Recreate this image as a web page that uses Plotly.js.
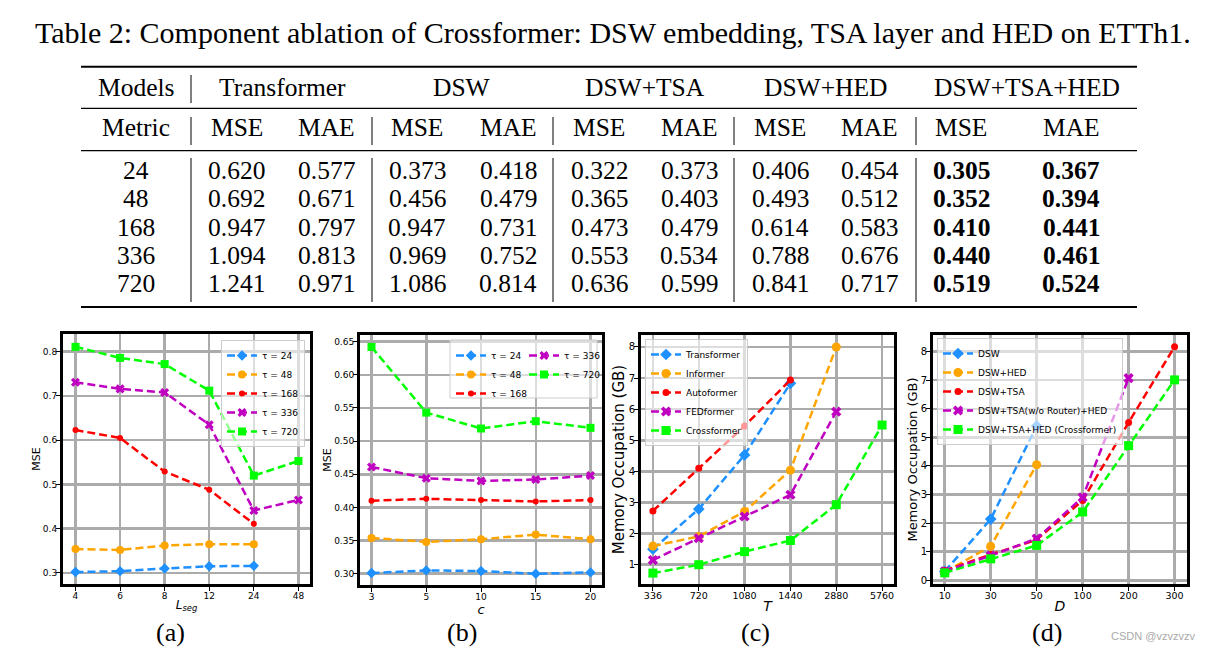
<!DOCTYPE html>
<html><head><meta charset="utf-8">
<script src="https://cdn.plot.ly/plotly-3.0.1.min.js"></script>
<style>html,body{margin:0;padding:0;background:#fff;} #chart{width:1213px;height:652px;}</style>
</head><body><div id="chart"></div>
<script>
// ================= DATA =================
// --- Table 2 ---
const tableTitle = 'Table 2: Component ablation of Crossformer: DSW embedding, TSA layer and HED on ETTh1.';
const tableModels = ['Transformer', 'DSW', 'DSW+TSA', 'DSW+HED', 'DSW+TSA+HED'];
const tableMetrics = ['MSE', 'MAE'];
const tableHorizons = ['24', '48', '168', '336', '720'];
const transformerMSE = [0.620, 0.692, 0.947, 1.094, 1.241];
const transformerMAE = [0.577, 0.671, 0.797, 0.813, 0.971];
const dswMSE = [0.373, 0.456, 0.947, 0.969, 1.086];
const dswMAE = [0.418, 0.479, 0.731, 0.752, 0.814];
const dswTsaMSE = [0.322, 0.365, 0.473, 0.553, 0.636];
const dswTsaMAE = [0.373, 0.403, 0.479, 0.534, 0.599];
const dswHedMSE = [0.406, 0.493, 0.614, 0.788, 0.841];
const dswHedMAE = [0.454, 0.512, 0.583, 0.676, 0.717];
const dswTsaHedMSE = [0.305, 0.352, 0.410, 0.440, 0.519];
const dswTsaHedMAE = [0.367, 0.394, 0.441, 0.461, 0.524];
const boldModel = 'DSW+TSA+HED';

// --- (a) MSE vs L_seg ---
const tauNames = ['τ = 24', 'τ = 48', 'τ = 168', 'τ = 336', 'τ = 720'];
const lsegTicks = ['4', '6', '8', '12', '24', '48'];
const aTau24  = [0.302, 0.304, 0.310, 0.315, 0.316];
const aTau48  = [0.354, 0.352, 0.362, 0.365, 0.365];
const aTau168 = [0.623, 0.605, 0.529, 0.488, 0.411];
const aTau336 = [0.731, 0.716, 0.708, 0.635, 0.441, 0.465];
const aTau720 = [0.811, 0.786, 0.772, 0.712, 0.520, 0.553];

// --- (b) MSE vs c ---
const cTicks = ['3', '5', '10', '15', '20'];
const bTau24  = [0.301, 0.305, 0.304, 0.300, 0.302];
const bTau48  = [0.354, 0.348, 0.352, 0.359, 0.352];
const bTau168 = [0.410, 0.413, 0.411, 0.409, 0.411];
const bTau336 = [0.461, 0.444, 0.440, 0.442, 0.448];
const bTau720 = [0.642, 0.543, 0.519, 0.530, 0.520];

// --- (c) Memory vs T ---
const tTicks = ['336', '720', '1080', '1440', '2880', '5760'];
const cNames = ['Transformer', 'Informer', 'Autoformer', 'FEDformer', 'Crossformer'];
const cTransformer = [1.50, 2.79, 4.53, 6.83];
const cInformer    = [1.60, 1.91, 2.71, 4.04, 8.00];
const cAutoformer  = [2.73, 4.10, 5.46, 6.94];
const cFEDformer   = [1.15, 1.85, 2.55, 3.25, 5.92];
const cCrossformer = [0.73, 1.00, 1.42, 1.78, 2.93, 5.49];

// --- (d) Memory vs D ---
const dTicks = ['10', '30', '50', '100', '200', '300'];
const dNames = ['DSW', 'DSW+HED', 'DSW+TSA', 'DSW+TSA(w/o Router)+HED', 'DSW+TSA+HED (Crossformer)'];
const dDSW         = [0.31, 2.14, 5.40];
const dDSWHED      = [0.29, 1.19, 4.04];
const dDSWTSA      = [0.34, 0.90, 1.42, 2.79, 5.52, 8.17];
const dDSWTSANoRouterHED = [0.31, 0.86, 1.46, 2.90, 7.07];
const dCrossformer = [0.26, 0.75, 1.22, 2.39, 4.71, 7.01];

const panelLabels = ['(a)', '(b)', '(c)', '(d)'];
const watermark = 'CSDN @vzvzvzv';

// ================= LAYOUT HELPERS =================
const W = 1213, H = 652;
const px = x => x / W;
const py = y => 1 - y / H;
const SERIF = 'Liberation Serif, Times New Roman, serif';
const SANS = 'DejaVu Sans, sans-serif';

const styles = [
  {color: '#1E90FF', symbol: 'diamond', size: 8},
  {color: '#FFA500', symbol: 'circle', size: 8},
  {color: '#FF0000', symbol: 'circle', size: 6},
  {color: '#C000C0', symbol: 'x', size: 8},
  {color: '#00FF00', symbol: 'square', size: 8}
];

function series(cats, vals, name, st, xa, ya, legend, rank, bump) {
  return {
    type: 'scatter', mode: 'lines+markers',
    x: cats.slice(0, vals.length), y: vals, name: name,
    xaxis: xa, yaxis: ya, legend: legend, legendrank: rank,
    line: {color: st.color, width: 2.5, dash: '8px,4px'},
    marker: {color: st.color, symbol: st.symbol, size: st.size + (bump || 0), line: {width: 0}}
  };
}

const traces = [];
[aTau24, aTau48, aTau168, aTau336, aTau720].forEach((v, i) =>
  traces.push(series(lsegTicks, v, tauNames[i], styles[i], 'x', 'y', 'legend', i + 1, 0)));
// (b) legend is split into two columns: 24/48/168 and 336/720
[bTau24, bTau48, bTau168, bTau336, bTau720].forEach((v, i) =>
  traces.push(series(cTicks, v, tauNames[i], styles[i], 'x2', 'y2', i < 3 ? 'legend2' : 'legend3', i + 1, 0)));
[cTransformer, cInformer, cAutoformer, cFEDformer, cCrossformer].forEach((v, i) =>
  traces.push(series(tTicks, v, cNames[i], styles[i], 'x3', 'y3', 'legend4', i + 1, 1)));
[dDSW, dDSWHED, dDSWTSA, dDSWTSANoRouterHED, dCrossformer].forEach((v, i) =>
  traces.push(series(dTicks, v, dNames[i], styles[i], 'x4', 'y4', 'legend5', i + 1, 1)));

const boxes = {a: [63, 310, 334, 584], b: [360, 602, 335, 585], c: [641, 894, 335, 584], d: [933, 1187, 335, 584]};

const axBase = {
  showline: true, linecolor: '#000', linewidth: 3, mirror: true,
  showgrid: true, gridcolor: '#ababab', gridwidth: 2.5, zeroline: false,
  ticks: 'outside', ticklen: 4, tickwidth: 1, tickcolor: '#000',
  tickfont: {family: SANS, size: 9, color: '#000'}, fixedrange: true
};
function xAx(box, range, cats, title, tsize, anchor, fontsize) {
  return Object.assign({}, axBase, {
    domain: [px(box[0]), px(box[1])], anchor: anchor, type: 'category',
    categoryorder: 'array', categoryarray: cats, range: range, ticklabelstandoff: -3,
    tickfont: {family: SANS, size: fontsize, color: '#000'},
    title: {text: title, font: {family: SANS, size: tsize, color: '#000'}, standoff: 1}
  });
}
function yAx(box, range, dtick, fmt, title, tsize, anchor, fontsize) {
  return Object.assign({}, axBase, {
    domain: [py(box[3]), py(box[2])], anchor: anchor, range: range,
    tick0: 0, dtick: dtick, tickformat: fmt, ticklabelstandoff: -3,
    tickfont: {family: SANS, size: fontsize, color: '#000'},
    title: {text: title, font: {family: SANS, size: tsize, color: '#000'}, standoff: 1}
  });
}

const legBase = {
  bgcolor: 'rgba(255,255,255,0.6)', bordercolor: '#cccccc', borderwidth: 1,
  font: {family: SANS, size: 9, color: '#000'}, itemwidth: 30, tracegroupgap: 0,
  orientation: 'v', yanchor: 'top', xanchor: 'left'
};

// ---- table annotations & shapes ----
const annotations = [];
const shapes = [];
const tAnn = (x, y, text, size, extra) => annotations.push(Object.assign({
  xref: 'paper', yref: 'paper', x: px(x), y: py(y), text: text, showarrow: false,
  xanchor: 'center', yanchor: 'middle', font: {family: SERIF, size: size, color: '#000'}
}, extra || {}));
const hLine = (y, w) => shapes.push({type: 'line', xref: 'paper', yref: 'paper',
  x0: px(81), x1: px(1137), y0: py(y), y1: py(y), line: {color: '#000', width: w}});
const vLine = (x, y0, y1) => shapes.push({type: 'line', xref: 'paper', yref: 'paper',
  x0: px(x), x1: px(x), y0: py(y0), y1: py(y1), line: {color: '#000', width: 1}});

tAnn(613, 32, tableTitle, 30);
const mseCols = [transformerMSE, dswMSE, dswTsaMSE, dswHedMSE, dswTsaHedMSE];
const maeCols = [transformerMAE, dswMAE, dswTsaMAE, dswHedMAE, dswTsaHedMAE];
const colX = [[236.5, 326.5], [417, 508], [599, 689], [780, 869.5], [961, 1071]];
const headX = [282.5, 462, 644.5, 825, 1027];
const rowY = [170, 198.5, 227, 255.5, 284];
const labelX = 136;
const FS = 25.5;
tAnn(labelX, 87.5, 'Models', FS);
tAnn(labelX, 128, 'Metric', FS);
tableModels.forEach((m, i) => {
  tAnn(headX[i], 87.5, m, FS);
  tAnn(colX[i][0], 128, tableMetrics[0], FS);
  tAnn(colX[i][1], 128, tableMetrics[1], FS);
  const bold = m === boldModel;
  tableHorizons.forEach((h, r) => {
    const f = v => bold ? '<b>' + v.toFixed(3) + '</b>' : v.toFixed(3);
    tAnn(colX[i][0], rowY[r], f(mseCols[i][r]), FS);
    tAnn(colX[i][1], rowY[r], f(maeCols[i][r]), FS);
  });
});
tableHorizons.forEach((h, r) => tAnn(labelX, rowY[r], h, FS));
hLine(66.7, 2); hLine(108.3, 1.2); hLine(150.7, 1.2); hLine(307, 2);
vLine(191, 75, 103);
[191, 372, 553, 734, 916].forEach(x => { vLine(x, 117, 145); vLine(x, 158, 302); });

// panel labels and watermark
[170, 462, 755, 1047].forEach((x, i) => tAnn(x, 632, panelLabels[i], 26));
annotations.push({xref: 'paper', yref: 'paper', x: px(1153), y: py(636), text: watermark,
  showarrow: false, xanchor: 'center', yanchor: 'middle',
  font: {family: 'Liberation Sans, Arial, sans-serif', size: 11, color: '#aaaaaa'}});

// legend box for (b) (two columns)
shapes.push({type: 'rect', xref: 'paper', yref: 'paper', layer: 'above',
  x0: px(450), x1: px(597), y0: py(340), y1: py(398),
  fillcolor: 'rgba(255,255,255,0.6)', line: {color: '#cccccc', width: 1}});

const layout = {
  width: W, height: H, margin: {l: 0, r: 0, t: 0, b: 0},
  paper_bgcolor: '#fff', plot_bgcolor: '#fff', showlegend: true,
  xaxis:  xAx(boxes.a, [-0.28, 5.26], lsegTicks, '<i>L<sub>seg</sub></i>', 12, 'y', 9),
  yaxis:  yAx(boxes.a, [0.275, 0.84], 0.1, '.1f', 'MSE', 11, 'x', 9),
  xaxis2: xAx(boxes.b, [-0.21, 4.21], cTicks, '<i>c</i>', 13, 'y2', 9),
  yaxis2: yAx(boxes.b, [0.283, 0.660], 0.05, '.2f', 'MSE', 11, 'x2', 9),
  xaxis3: xAx(boxes.c, [-0.26, 5.26], tTicks, '<i>T</i>', 14, 'y3', 9.5),
  yaxis3: yAx(boxes.c, [0.38, 8.385], 1, 'd', 'Memory Occupation (GB)', 15, 'x3', 10),
  xaxis4: xAx(boxes.d, [-0.255, 5.27], dTicks, '<i>D</i>', 14, 'y4', 9.5),
  yaxis4: yAx(boxes.d, [-0.13, 8.58], 1, 'd', 'Memory Occupation (GB)', 13, 'x4', 10),
  legend:  Object.assign({}, legBase, {x: px(305), xanchor: 'right', y: py(340)}),
  legend2: Object.assign({}, legBase, {x: px(451), y: py(341), bgcolor: 'rgba(0,0,0,0)', borderwidth: 0}),
  legend3: Object.assign({}, legBase, {x: px(524), y: py(341), bgcolor: 'rgba(0,0,0,0)', borderwidth: 0}),
  legend4: Object.assign({}, legBase, {x: px(645), y: py(339)}),
  legend5: Object.assign({}, legBase, {x: px(937), y: py(338)}),
  annotations: annotations, shapes: shapes
};

Plotly.newPlot('chart', traces, layout, {staticPlot: true, displayModeBar: false});
</script>
</body></html>
